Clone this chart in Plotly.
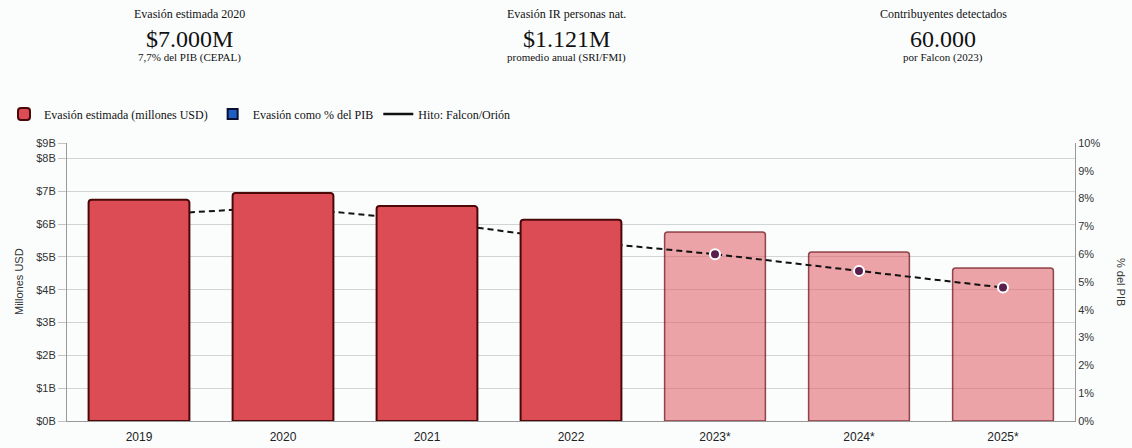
import plotly.graph_objects as go

years = ["2019", "2020", "2021", "2022", "2023*", "2024*", "2025*"]
evasion_musd = [6740, 6950, 6550, 6130, 5760, 5150, 4660]
evasion_pct = [7.4, 7.7, 7.2, 6.5, 6.0, 5.4, 4.8]
n_hist = 4

left_tickvals = [0, 1000, 2000, 3000, 4000, 5000, 6000, 7000, 8000, 8470]
left_ticktext = ["$0B", "$1B", "$2B", "$3B", "$4B", "$5B", "$6B", "$7B", "$8B", "$9B"]
right_tickvals = list(range(0, 11))
right_ticktext = [f"{v}%" for v in right_tickvals]

kpis = [
    ("Evasión estimada 2020", "$7.000M", "7,7% del PIB (CEPAL)"),
    ("Evasión IR personas nat.", "$1.121M", "promedio anual (SRI/FMI)"),
    ("Contribuyentes detectados", "60.000", "por Falcon (2023)"),
]

SERIF = "Liberation Serif"
SANS = "Liberation Sans"

fig = go.Figure()

# forecast bars (bottom layer)
fig.add_trace(go.Bar(
    x=years[n_hist:], y=evasion_musd[n_hist:], yaxis="y",
    marker=dict(color="rgba(222,90,98,0.55)",
                line=dict(color="rgba(110,20,30,0.75)", width=1.5),
                cornerradius=3),
    showlegend=False, hoverinfo="x+y",
))
# % line (middle layer)
fig.add_trace(go.Scatter(
    x=years, y=evasion_pct, yaxis="y2", mode="lines+markers",
    line=dict(color="#111111", width=2, dash="6px,4px"),
    marker=dict(size=10, color="#5a1f4c", line=dict(color="white", width=2)),
    showlegend=False,
))
# historical bars (top layer)
fig.add_trace(go.Bar(
    x=years[:n_hist], y=evasion_musd[:n_hist], yaxis="y3",
    name="Evasión estimada (millones USD)",
    marker=dict(color="#dc4c54", line=dict(color="#4a0808", width=2),
                cornerradius=3),
))
# legend-only entries
fig.add_trace(go.Scatter(
    x=[None], y=[None], yaxis="y2", mode="markers",
    name="Evasión como % del PIB",
    marker=dict(symbol="square", size=10, color="#1d5fc4",
                line=dict(color="#0a0f30", width=2)),
))
fig.add_trace(go.Scatter(
    x=[None], y=[None], yaxis="y2", mode="lines",
    name="Hito: Falcon/Orión",
    line=dict(color="#111111", width=2.5),
))

annotations = []
centers = [189, 566, 943]
L, R, T, B = 67, 1075, 143, 421
W, H = R - L, B - T
def px_x(px):
    return (px - L) / W
def px_y(py):
    return (B - py) / H

for cx, (t, v, s) in zip(centers, kpis):
    annotations.append(dict(x=px_x(cx), y=px_y(14), xref="paper", yref="paper",
                            xanchor="center", yanchor="middle",
                            text=t, showarrow=False, font=dict(family=SERIF, size=12, color="#111")))
    annotations.append(dict(x=px_x(cx), y=px_y(39), xref="paper", yref="paper",
                            xanchor="center", yanchor="middle",
                            text=v, showarrow=False, font=dict(family=SERIF, size=24, color="#111")))
    annotations.append(dict(x=px_x(cx), y=px_y(58), xref="paper", yref="paper",
                            xanchor="center", yanchor="middle",
                            text=s, showarrow=False, font=dict(family=SERIF, size=11, color="#111")))

annotations.append(dict(x=px_x(19), y=0.5, xref="paper", yref="paper", text="Millones USD",
                        xanchor="center", yanchor="middle",
                        textangle=-90, showarrow=False, font=dict(family=SANS, size=11, color="#333")))
annotations.append(dict(x=px_x(1121), y=0.5, xref="paper", yref="paper", text="% del PIB",
                        xanchor="center", yanchor="middle",
                        textangle=90, showarrow=False, font=dict(family=SANS, size=11, color="#333")))

fig.update_layout(
    width=1132, height=448,
    margin=dict(l=L, r=1132 - R, t=T, b=448 - B, autoexpand=False),
    paper_bgcolor="#fbfdfd", plot_bgcolor="#fbfdfd",
    bargap=0.3,
    font=dict(family=SANS, size=11, color="#333"),
    xaxis=dict(type="category", categoryorder="array", categoryarray=years,
               showline=True, linecolor="#999", linewidth=1,
               ticks="outside", ticklen=5, tickcolor="rgba(0,0,0,0)",
               tickfont=dict(family=SANS, size=12, color="#222"), showgrid=False,
               automargin=False),
    yaxis=dict(range=[0, 8470], tickvals=left_tickvals, ticktext=left_ticktext,
               showgrid=True, gridcolor="#d2d5d8", gridwidth=1,
               showline=True, linecolor="#999", linewidth=1,
               ticks="outside", ticklen=8, tickcolor="#c4c4c4",
               tickfont=dict(family=SANS, size=11, color="#333"), zeroline=False,
               automargin=False),
    yaxis2=dict(range=[0, 10], tickvals=right_tickvals, ticktext=right_ticktext,
                overlaying="y", side="right", showgrid=False,
                showline=True, linecolor="#999", linewidth=1, ticks="",
                tickfont=dict(family=SANS, size=11, color="#333"), zeroline=False,
                automargin=False),
    yaxis3=dict(range=[0, 8470], overlaying="y", side="left", visible=False,
                showgrid=False, zeroline=False, automargin=False),
    legend=dict(orientation="h", x=px_x(4), y=px_y(114), xanchor="left", yanchor="middle",
                font=dict(family=SERIF, size=12, color="#111"), bgcolor="rgba(0,0,0,0)",
                itemwidth=30, traceorder="normal"),
    annotations=annotations,
    hovermode=False,
)

fig.write_html("out.html", config={"displayModeBar": False},
               post_script="document.body.style.margin='0';document.body.style.background='#fbfdfd';")
